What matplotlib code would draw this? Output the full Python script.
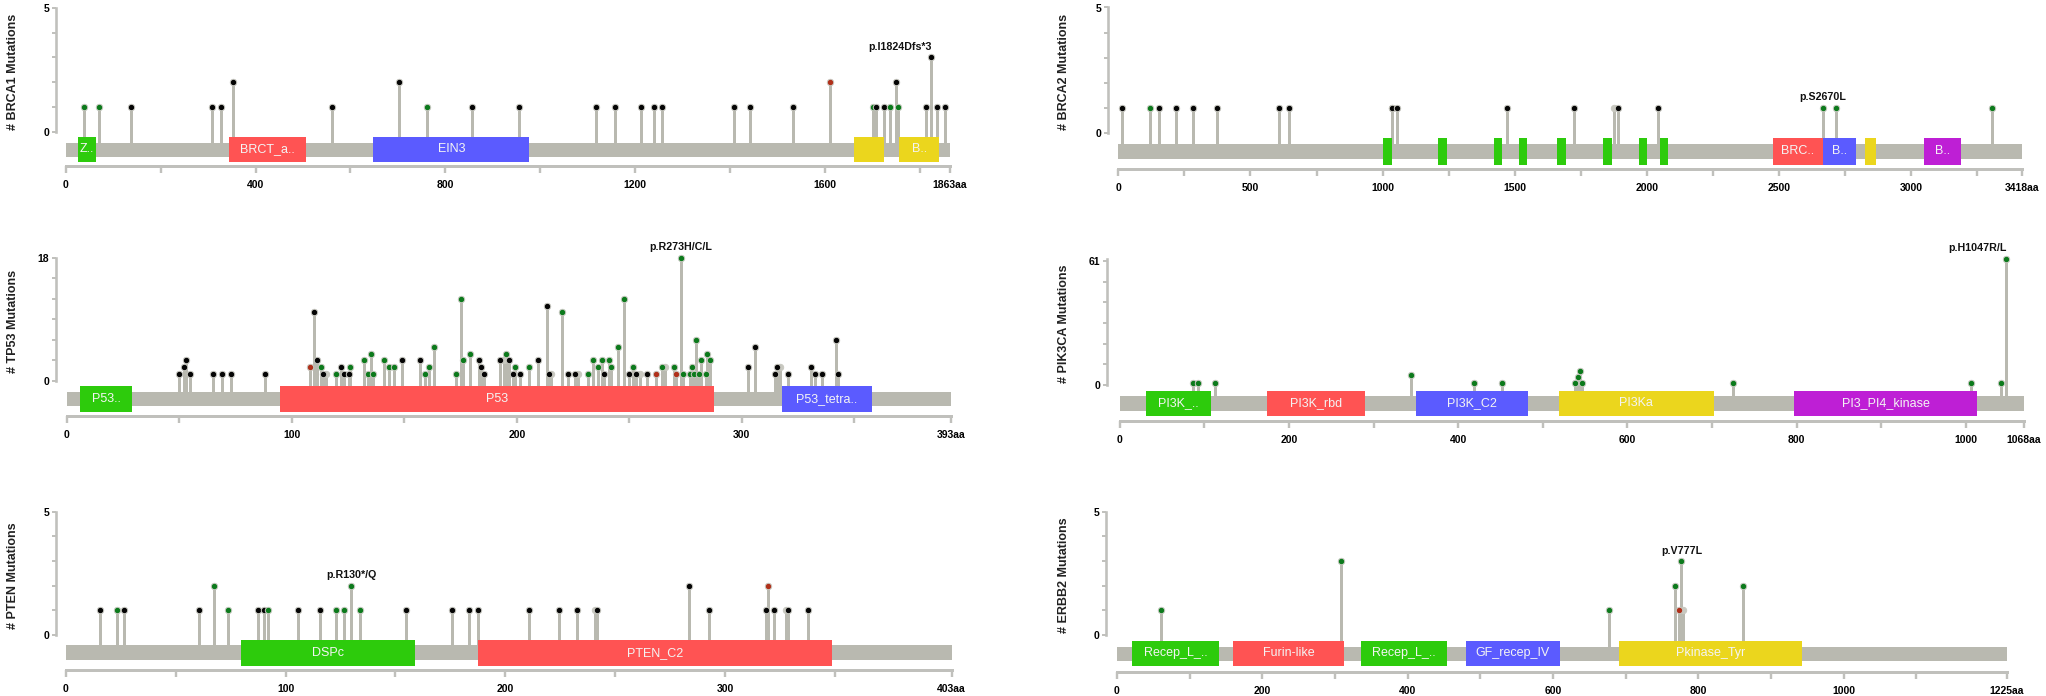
import matplotlib
matplotlib.use("Agg")
import matplotlib.pyplot as plt
from matplotlib.patches import Rectangle

# Figure size in pixels
W = 2046
H = 696
PX = 0.72  # one pixel in points at dpi 100

GREY = '#b9b9b0'
AXIS_GREY = '#c0c0bc'
DOT_COLORS = {'k': '#050505', 'g': '#0c7a1c', 'r': '#b0301a', 'n': '#c8c8c0'}
DOMAIN_COLORS = {'green': '#2dcb0c', 'red': '#ff5353', 'blue': '#5b5bff',
                 'yellow': '#ebd61d', 'purple': '#be1fd5'}

# ---- BRCA1 ----
BRCA1_LEN = 1863
BRCA1_POS = [38, 71, 138, 309, 328, 352, 562, 703, 761, 857, 955, 1117, 1157, 1213, 1239, 1256,
             1408, 1441, 1532, 1611, 1700, 1708, 1723, 1737, 1749, 1753, 1813, 1822, 1835, 1852]
BRCA1_COUNT = [1, 1, 1, 1, 1, 2, 1, 2, 1, 1, 1, 1, 1, 1, 1, 1,
               1, 1, 1, 2, 1, 1, 1, 1, 2, 1, 1, 3, 1, 1]
BRCA1_TYPE = "ggkkkkkkgkkkkkkkkkkrgkkgkgkkkk"
BRCA1_DOM_START = [25, 343, 648, 1661, 1756]
BRCA1_DOM_END = [63, 506, 977, 1723, 1840]
BRCA1_DOM_NAME = ["Z..", "BRCT_a..", "EIN3", "", "B.."]
BRCA1_DOM_COLOR = ['green', 'red', 'blue', 'yellow', 'yellow']
BRCA1_TICKS = [0, 400, 800, 1200, 1600, 1863]
BRCA1_MINOR = [200, 600, 1000, 1400, 1800]

# ---- TP53 ----
TP53_LEN = 393
TP53_POS = [49.7, 51.8, 52.8, 54.9, 64.7, 68.9, 72.9, 88, 107.9, 110, 111, 113.1, 114, 115,
            119.8, 121.9, 123, 125.3, 126, 132, 134, 135, 136.2, 141, 143, 145.2, 149, 157,
            159, 161, 163, 173.1, 175.1, 176.2, 179.2, 183.2, 184.2, 185.3, 192.3, 194.2,
            195.2, 196.3, 198.2, 199.3, 201.2, 205.2, 209.2, 213.4, 214.3, 215, 219.9, 222.9,
            225.8, 227, 231.7, 233.8, 235.9, 237.8, 238.9, 240.8, 241.8, 244.8, 247.8, 249.8,
            251.8, 252.8, 254.6, 257.8, 261.7, 264.7, 266, 269.9, 270.9, 272.8, 274, 277, 277.7,
            278.9, 279.8, 281.1, 281.7, 283.9, 284.7, 285.9, 302.6, 305.7, 314.6, 315.7, 317,
            320.7, 330.7, 332.7, 335.7, 341.8, 342.8]
TP53_COUNT = [1, 2, 3, 1, 1, 1, 1, 1, 2, 10, 3, 2, 1, 1,
              1, 2, 1, 1, 2, 3, 1, 4, 1, 3, 2, 2, 3, 3,
              1, 2, 5, 1, 12, 3, 4, 3, 2, 1, 3, 3,
              4, 3, 1, 2, 1, 2, 3, 11, 1, 1, 10, 1,
              1, 1, 1, 3, 2, 3, 1, 3, 2, 5, 12, 1,
              2, 1, 1, 1, 1, 2, 2, 2, 1, 18, 1, 1, 2,
              1, 6, 1, 3, 1, 4, 3, 2, 5, 1, 2, 2,
              1, 2, 1, 1, 6, 1]
TP53_TYPE = ("kkkkkkkkrkkgkn" "gkkkg" "ggggggg" "kk" "ggggggg" "kkkk" "n" "gkkgkgkkkn" "gkkn"
             "ggggkgggg" "kgknkrgn" "grggggggggggg" "kkkknkkkkkk")
TP53_DOM_START = [6, 94.8, 318]
TP53_DOM_END = [29, 287.7, 357.8]
TP53_DOM_NAME = ["P53..", "P53", "P53_tetra.."]
TP53_DOM_COLOR = ['green', 'red', 'blue']
TP53_TICKS = [0, 100, 200, 300, 393]
TP53_MINOR = [50, 150, 250, 350]

# ---- PTEN ----
PTEN_LEN = 403
PTEN_POS = [15.7, 23.5, 26.7, 60.6, 67.6, 73.7, 87.6, 90, 92, 105.6, 115.8, 122.8, 126.5, 129.7,
            133.8, 154.7, 175.6, 183.7, 187.5, 210.7, 224.6, 232.7, 240.6, 241.7, 283.5, 292.5,
            318.6, 319.5, 322.4, 327.6, 328.8, 337.5]
PTEN_COUNT = [1, 1, 1, 1, 2, 1, 1, 1, 1, 1, 1, 1, 1, 2,
              1, 1, 1, 1, 1, 1, 1, 1, 1, 1, 2, 1,
              1, 2, 1, 1, 1, 1]
PTEN_TYPE = "kgkkggkkgkkggg" "g" "kkkkkkknkkk" "krknkk"
PTEN_DOM_START = [79.8, 187.8]
PTEN_DOM_END = [158.7, 348.5]
PTEN_DOM_NAME = ["DSPc", "PTEN_C2"]
PTEN_DOM_COLOR = ['green', 'red']
PTEN_TICKS = [0, 100, 200, 300, 403]
PTEN_MINOR = [50, 150, 250, 350]

# ---- BRCA2 ----
BRCA2_LEN = 3418
BRCA2_POS = [15, 119, 155, 218, 284, 374, 609, 646, 1034, 1036, 1054, 1469, 1726, 1876, 1891,
             2042, 2665, 2716, 3304]
BRCA2_COUNT = [1] * 19
BRCA2_TYPE = "kgkkkkkknkkkknkkggg"
BRCA2_DOM_START = [1000, 1209, 1420, 1515, 1660, 1835, 1971, 2049, 2476, 2665, 2826, 3049]
BRCA2_DOM_END = [1034, 1243, 1452, 1546, 1692, 1867, 2000, 2080, 2665, 2792, 2865, 3187]
BRCA2_DOM_NAME = ["", "", "", "", "", "", "", "", "BRC..", "B..", "", "B.."]
BRCA2_DOM_COLOR = ['green'] * 8 + ['red', 'blue', 'yellow', 'purple']
BRCA2_TICKS = [0, 500, 1000, 1500, 2000, 2500, 3000, 3418]
BRCA2_MINOR = [250, 750, 1250, 1750, 2250, 2750, 3250]

# ---- PIK3CA ----
PIK3CA_LEN = 1068
PIK3CA_POS = [87, 92.5, 113, 344, 419, 452, 538, 541, 544, 546, 725, 1006, 1041, 1047]
PIK3CA_COUNT = [1, 1, 1, 5, 1, 1, 1, 4, 7, 1, 1, 1, 1, 61]
PIK3CA_TYPE = "g" * 14
PIK3CA_DOM_START = [31, 174, 350, 519, 797]
PIK3CA_DOM_END = [108, 290, 482, 702, 1013]
PIK3CA_DOM_NAME = ["PI3K_..", "PI3K_rbd", "PI3K_C2", "PI3Ka", "PI3_PI4_kinase"]
PIK3CA_DOM_COLOR = ['green', 'red', 'blue', 'yellow', 'purple']
PIK3CA_TICKS = [0, 200, 400, 600, 800, 1000, 1068]
PIK3CA_MINOR = [100, 300, 500, 700, 900]

# ---- ERBB2 ----
ERBB2_LEN = 1225
ERBB2_POS = [60, 309, 677, 768, 774, 776, 779, 861]
ERBB2_COUNT = [1, 3, 1, 2, 1, 3, 1, 2]
ERBB2_TYPE = "gggg" "rg" "ng"
ERBB2_DOM_START = [21, 160, 336, 480, 691]
ERBB2_DOM_END = [141, 312, 454, 610, 943]
ERBB2_DOM_NAME = ["Recep_L_..", "Furin-like", "Recep_L_..", "GF_recep_IV", "Pkinase_Tyr"]
ERBB2_DOM_COLOR = ['green', 'red', 'green', 'blue', 'yellow']
ERBB2_TICKS = [0, 200, 400, 600, 800, 1000, 1225]
ERBB2_MINOR = [100, 300, 500, 700, 900, 1100]

plt.rcParams['font.family'] = ['Liberation Sans', 'DejaVu Sans']


def fig_text(fig, x, y, s, **kw):
    # place text by pixel position, y measured from the top
    fig.text(x / W, 1 - y / H, s, ha='center', va='center', **kw)


def draw_panel(fig, gene, length, pos, count, types, dom_start, dom_end, dom_name, dom_color,
               ticks, minor, ymax, y_step, geo, peak):
    x0, x1, ytop, y0, bar_top, bar_bot, dom_top, dom_bot, axis_y, axis_x, title_x = geo

    ax = fig.add_axes([x0 / W, 1 - axis_y / H, (x1 - x0) / W, (axis_y - ytop) / H])
    per = (y0 - ytop) / ymax  # pixels per mutation

    def py(p):
        return (y0 - p) / per

    ax.set_xlim(0, length)
    ax.set_ylim(py(axis_y), ymax)
    ax.patch.set_alpha(0)

    # stems
    ax.vlines(pos, py(bar_top + 1), count, color=GREY, linewidth=3 * PX, zorder=1)

    # backbone and domains
    ax.add_patch(Rectangle((0, py(bar_bot)), length, py(bar_top) - py(bar_bot),
                           color=GREY, linewidth=0, zorder=2))
    for a, b, name, c in zip(dom_start, dom_end, dom_name, dom_color):
        ax.add_patch(Rectangle((a, py(dom_bot)), b - a, py(dom_top) - py(dom_bot),
                               color=DOMAIN_COLORS[c], linewidth=0, zorder=3))
        if name:
            ax.text((a + b) / 2, py((dom_top + dom_bot) / 2), name, color='#f4f4f4', fontsize=9,
                    ha='center', va='center', zorder=4)

    # lollipop heads, the pale ones sit behind the others
    for p, n, t in zip(pos, count, types):
        ax.plot([p], [n], 'o', ms=4.6, mfc=DOT_COLORS[t], mec='#c8c8c0', mew=0.7,
                clip_on=False, zorder=4.5 if t == 'n' else 5)

    # axes
    for s in ('top', 'right'):
        ax.spines[s].set_visible(False)
    ax.spines['left'].set_position(('outward', (x0 - axis_x) * PX))
    ax.spines['left'].set_bounds(0, ymax)
    ax.spines['left'].set_color(AXIS_GREY)
    ax.spines['left'].set_linewidth(2.6 * PX)
    ax.spines['bottom'].set_color(AXIS_GREY)
    ax.spines['bottom'].set_linewidth(3 * PX)

    yt = [i * y_step for i in range(int(round(ymax / y_step)) + 1)]
    ax.set_yticks(yt)
    ax.set_yticklabels(['0'] + [''] * (len(yt) - 2) + [str(ymax)], fontsize=7.5, fontweight='bold')
    ax.tick_params(axis='y', length=3, width=1.4, color=AXIS_GREY, pad=2)

    ax.set_xticks(ticks)
    ax.set_xticks(minor, minor=True)
    labels = [str(t) for t in ticks]
    labels[-1] += 'aa'
    ax.set_xticklabels(labels, fontsize=7.5, fontweight='bold')
    ax.tick_params(axis='x', which='both', length=5, width=2 * PX * 1.2, color=AXIS_GREY, pad=5)

    fig_text(fig, title_x, (ytop + y0) / 2 + 2, "# %s Mutations" % gene, rotation=90,
             fontsize=9, fontweight='bold', color='#222222')
    fig_text(fig, peak[0], peak[1], peak[2], fontsize=7.7, fontweight='bold', color='#111111')


fig = plt.figure(figsize=(W / 100, H / 100), dpi=100, facecolor='white')

draw_panel(fig, "BRCA1", BRCA1_LEN, BRCA1_POS, BRCA1_COUNT, BRCA1_TYPE, BRCA1_DOM_START,
           BRCA1_DOM_END, BRCA1_DOM_NAME, BRCA1_DOM_COLOR, BRCA1_TICKS, BRCA1_MINOR, 5, 1,
           (65.7, 950, 8, 131.7, 143, 157, 137, 162, 166, 56, 13), (900, 47, "p.I1824Dfs*3"))
draw_panel(fig, "TP53", TP53_LEN, TP53_POS, TP53_COUNT, TP53_TYPE, TP53_DOM_START,
           TP53_DOM_END, TP53_DOM_NAME, TP53_DOM_COLOR, TP53_TICKS, TP53_MINOR, 18, 3,
           (67, 951, 257.5, 381, 392, 406, 386, 412, 416, 56, 13), (680.6, 247, "p.R273H/C/L"))
draw_panel(fig, "PTEN", PTEN_LEN, PTEN_POS, PTEN_COUNT, PTEN_TYPE, PTEN_DOM_START,
           PTEN_DOM_END, PTEN_DOM_NAME, PTEN_DOM_COLOR, PTEN_TICKS, PTEN_MINOR, 5, 1,
           (65.7, 951.5, 511.7, 635, 645, 660, 640, 666, 670, 56, 13), (351, 575, "p.R130*/Q"))
draw_panel(fig, "BRCA2", BRCA2_LEN, BRCA2_POS, BRCA2_COUNT, BRCA2_TYPE, BRCA2_DOM_START,
           BRCA2_DOM_END, BRCA2_DOM_NAME, BRCA2_DOM_COLOR, BRCA2_TICKS, BRCA2_MINOR, 5, 1,
           (1118.3, 2021.7, 7.5, 133, 144, 158.7, 138, 164.7, 168.7, 1108, 1064), (1822.7, 97, "p.S2670L"))
draw_panel(fig, "PIK3CA", PIK3CA_LEN, PIK3CA_POS, PIK3CA_COUNT, PIK3CA_TYPE, PIK3CA_DOM_START,
           PIK3CA_DOM_END, PIK3CA_DOM_NAME, PIK3CA_DOM_COLOR, PIK3CA_TICKS, PIK3CA_MINOR, 61, 10,
           (1119.6, 2023.6, 259, 385, 395.7, 411, 390.7, 416, 420.7, 1107.4, 1064), (1977, 248, "p.H1047R/L"))
draw_panel(fig, "ERBB2", ERBB2_LEN, ERBB2_POS, ERBB2_COUNT, ERBB2_TYPE, ERBB2_DOM_START,
           ERBB2_DOM_END, ERBB2_DOM_NAME, ERBB2_DOM_COLOR, ERBB2_TICKS, ERBB2_MINOR, 5, 1,
           (1117, 2007, 511.7, 635, 646.7, 661.3, 640.7, 666, 671.7, 1106, 1064), (1681.6, 550.7, "p.V777L"))

plt.savefig('out.png', dpi=100)
